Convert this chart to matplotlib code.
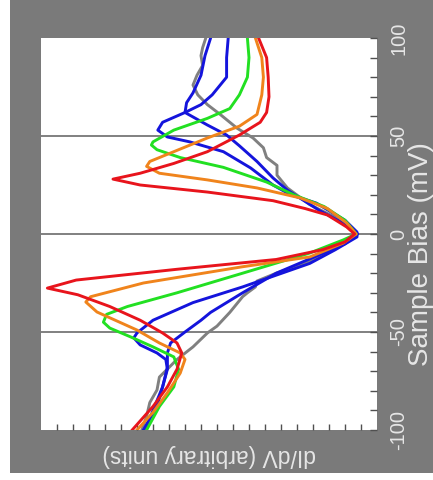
import numpy as np
import matplotlib.pyplot as plt

plt.rcParams['font.family'] = ['Liberation Sans', 'DejaVu Sans']

# sample bias (mV) and dI/dV (arb. units)
bias_red = [100, 90, 80, 70, 62, 57, 50.5, 42, 36, 31, 28, 25, 21.4, 17, 13, 9.7, 3.6, 0,
            -4, -8, -13, -18, -23.5, -27.6, -31, -37, -44, -50.5, -55.6, -60.7, -69, -78, -88, -100]
didv_red = [0.74, 0.69, 0.68, 0.675, 0.69, 0.73, 0.86, 1.06, 1.27, 1.48, 1.65, 1.48, 1.06, 0.65, 0.45, 0.31, 0.19, 0.14,
            0.2, 0.34, 0.63, 1.25, 1.88, 2.06, 1.87, 1.67, 1.48, 1.34, 1.25, 1.22, 1.25, 1.31, 1.40, 1.53]

bias_orange = [100, 90, 80, 71, 61, 55, 49, 42, 37, 34.5, 31, 27.6, 23.5, 18.4, 13, 5.6, 0,
               -4.6, -11.7, -16.7, -25, -32, -34.7, -39.8, -49, -55.6, -60.7, -64, -71, -81, -91, -100]
didv_orange = [0.76, 0.72, 0.71, 0.72, 0.75, 0.86, 1.06, 1.27, 1.42, 1.44, 1.36, 1.06, 0.75, 0.48, 0.31, 0.19, 0.13,
               0.21, 0.42, 0.84, 1.46, 1.79, 1.82, 1.75, 1.5, 1.36, 1.23, 1.2, 1.23, 1.31, 1.40, 1.5]

bias_green = [100, 90, 80, 71, 64, 59, 53, 47, 45.4, 43, 39, 34, 26.5, 20, 14, 7, 0,
              -3, -9.7, -20, -30, -37, -41, -45, -48, -52.5, -57.6, -62.7, -69, -78, -88, -100]
didv_green = [0.81, 0.80, 0.81, 0.86, 0.92, 1.06, 1.27, 1.4, 1.41, 1.375, 1.23, 0.96, 0.69, 0.52, 0.33, 0.2, 0.13,
              0.21, 0.42, 0.84, 1.25, 1.56, 1.69, 1.71, 1.67, 1.54, 1.4, 1.27, 1.24, 1.27, 1.36, 1.44]

bias_blue1 = [100, 90, 80, 71, 66, 62, 57, 53, 49.5, 47, 42, 33.7, 25, 20, 15.8, 7, 1,
              -1.5, -8, -15, -27, -35, -44, -50.5, -53, -56.6, -60.7, -64, -69, -78, -88, -100]
didv_blue1 = [0.93, 0.94, 0.94, 1.03, 1.1, 1.2, 1.34, 1.37, 1.31, 1.17, 0.96, 0.79, 0.65, 0.54, 0.38, 0.2, 0.125,
              0.125, 0.26, 0.42, 0.84, 1.15, 1.4, 1.5, 1.52, 1.48, 1.375, 1.32, 1.31, 1.34, 1.375, 1.46]

bias_blue2 = [100, 91, 81, 72, 67, 62, 55.6, 50.5, 45, 37, 28.6, 22.4, 12, 5, 0,
              -5, -12, -20, -30, -40, -44, -50, -55.6, -60.7, -68, -78, -90, -100]
didv_blue2 = [1.04, 1.075, 1.1, 1.15, 1.19, 1.2, 1.06, 0.94, 0.86, 0.75, 0.65, 0.56, 0.36, 0.2, 0.12,
              0.2, 0.4, 0.63, 0.84, 1.04, 1.1, 1.2, 1.29, 1.31, 1.31, 1.34, 1.4, 1.45]

bias_gray = [100, 95, 91, 86, 81, 76, 71, 66, 61, 54, 49, 44, 39, 35, 30, 23.5, 15, 8, 0,
             -8, -15, -20, -24, -27, -30, -32, -40, -47, -50.5, -57.6, -64, -73, -79.6, -86, -93, -100]
didv_gray = [1.07, 1.09, 1.1, 1.09, 1.125, 1.15, 1.12, 1.06, 0.98, 0.875, 0.775, 0.71, 0.69, 0.625, 0.625, 0.56, 0.42, 0.25, 0.13,
             0.27, 0.45, 0.63, 0.75, 0.76, 0.81, 0.84, 0.92, 1.0, 1.06, 1.15, 1.25, 1.36, 1.375, 1.42, 1.44, 1.47]

bias_ticks = [-100, -50, 0, 50, 100]
ref_lines = [-50, 0, 50]

bg = '#7a7a7a'
txt = '#e6e6e6'

fig = plt.figure(figsize=(4.33, 4.8), dpi=100)
# gray panel behind everything
back = fig.add_axes([10 / 433, 7 / 480, 423 / 433, 473 / 480], zorder=0)
back.set_facecolor(bg)
back.set_xticks([])
back.set_yticks([])
for s in back.spines.values():
    s.set_visible(False)

# the whole chart is turned 90 deg: bias runs bottom->top, dI/dV grows to the left
ax = fig.add_axes([41 / 433, 50 / 480, 336 / 433, 392 / 480], zorder=1)
ax.set_facecolor('white')
ax.set_xlim(2.1, 0)
ax.set_ylim(-100, 100)
for s in ax.spines.values():
    s.set_visible(False)

for b in ref_lines:
    ax.axhline(b, color='#808080', lw=1.4, zorder=1)

lw = 2.1
ax.plot(didv_gray, bias_gray, color='#808080', lw=lw, zorder=2)
ax.plot(didv_blue2, bias_blue2, color='#1414dc', lw=lw, zorder=3)
ax.plot(didv_blue1, bias_blue1, color='#1414dc', lw=lw, zorder=3)
ax.plot(didv_green, bias_green, color='#22e022', lw=lw, zorder=4)
ax.plot(didv_orange, bias_orange, color='#f0841c', lw=lw, zorder=5)
ax.plot(didv_red, bias_red, color='#e8141c', lw=lw, zorder=6)

ax.yaxis.tick_right()
ax.set_yticks(bias_ticks)
ax.set_yticklabels([str(t) for t in bias_ticks], rotation=90, va='center')
ax.set_yticks(np.arange(-90, 100, 10), minor=True)
ax.tick_params(axis='y', which='both', direction='in', length=5, width=1,
               color='#505050', labelcolor=txt, labelsize=14.5, pad=9)
ax.set_xticks(np.arange(0.1, 2.05, 0.1))
ax.set_xticklabels([])
ax.tick_params(axis='x', direction='in', length=4, width=1, color='#505050')

ax.yaxis.set_label_position('right')
ax.set_ylabel('Sample Bias (mV)', rotation=90, color=txt, fontsize=20,
              va='center', ha='center')
ax.yaxis.set_label_coords(1.13, 0.45)
ax.set_xlabel('dI/dV (arbitrary units)', rotation=180, color=txt, fontsize=16.5,
              va='center', ha='center')
ax.xaxis.set_label_coords(0.5, -0.066)

fig.savefig('out.png', dpi=100)
